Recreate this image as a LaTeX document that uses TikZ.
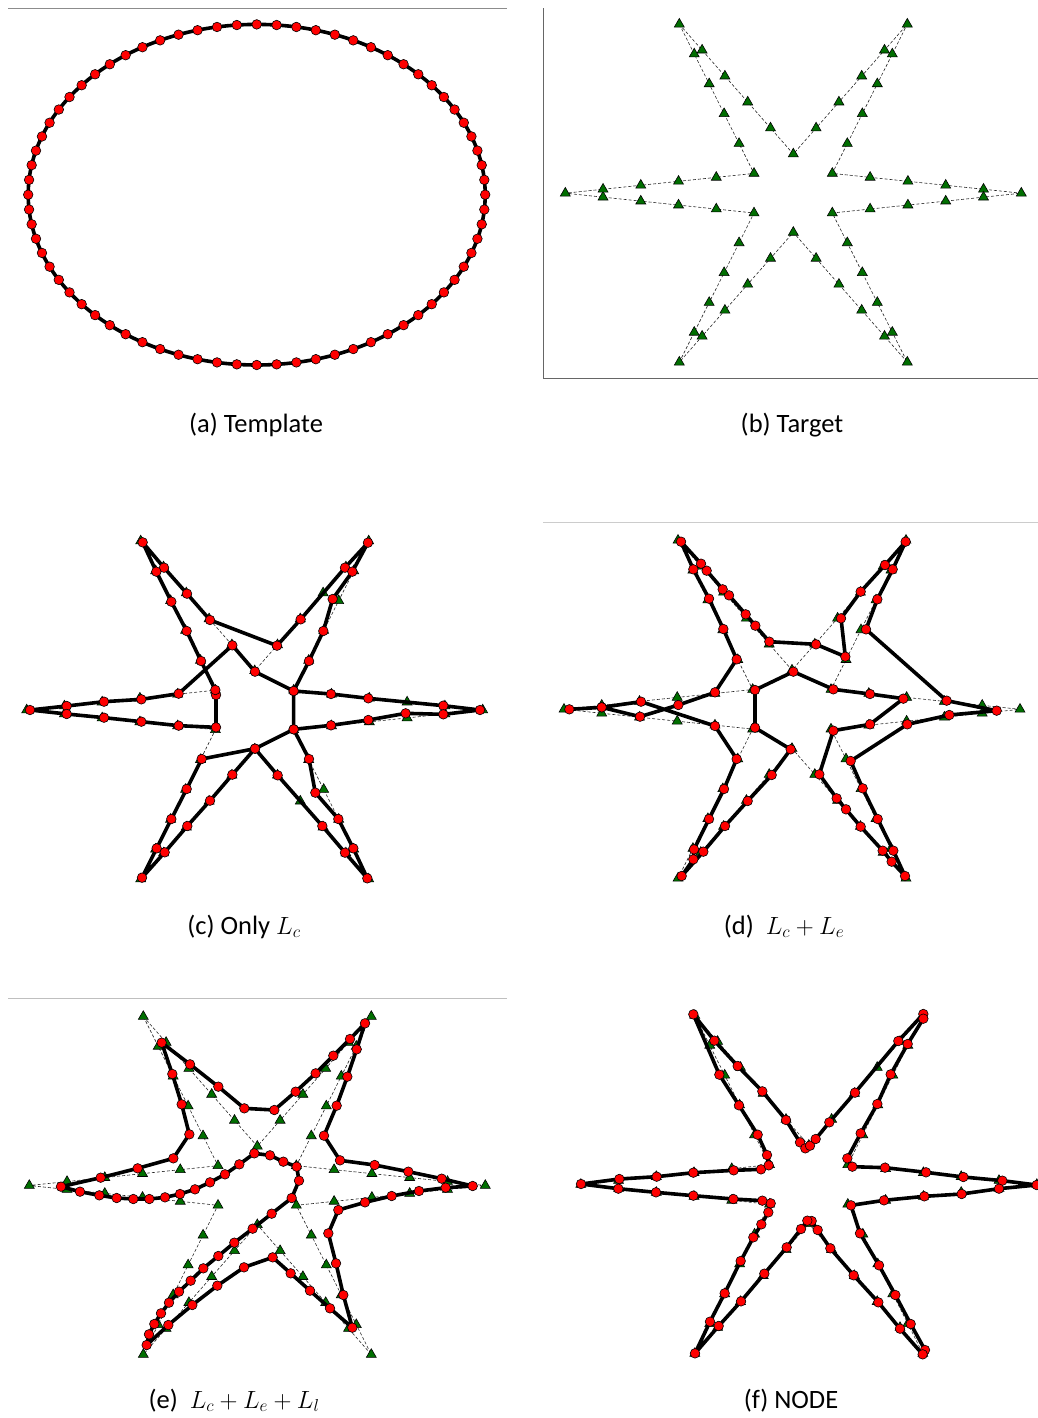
\documentclass[tikz,border=0pt]{standalone}
\usepackage{fontspec}
\setmainfont{Carlito}
\usetikzlibrary{shapes.geometric}
\definecolor{tgreen}{RGB}{0,110,0}
\definecolor{pred}{RGB}{255,0,0}
\tikzset{
  tgtline/.style={densely dashed, line width=0.6pt, black!85},
  tri/.style={regular polygon, regular polygon sides=3, minimum size=11.5pt, inner sep=0pt, fill=tgreen, draw=black, line width=0.6pt},
  predline/.style={line width=3.6pt, black, line join=round, line cap=round},
  predmark/.style={mark=*, mark size=4.8pt, mark options={fill=pred, draw=black, line width=0.6pt}},
  rule/.style={line width=0.9pt},
  captxt/.style={font=\fontsize{26.5}{30}\selectfont, inner sep=0pt, anchor=base}
}
% target star: #1 name prefix, #2 cx, #3 cy
\newcommand\targetstar[3]{%
\begin{scope}[shift={(#2,#3)}]
\draw[tgtline] (-114,-169) -- (0,-39.2) -- (114,-169) -- (39,-19.8) -- (228,0) -- (39,19.8) -- (114,169) -- (0,39.2) -- (-114,169) -- (-39.3,19.8) -- (-228,0) -- (-39.3,-19.8) -- cycle;
\foreach \ax/\ay/\bx/\by [count=\e] in {-114/-169/0/-39.2, 0/-39.2/114/-169, 114/-169/39/-19.8, 39/-19.8/228/0, 228/0/39/19.8, 39/19.8/114/169, 114/169/0/39.2, 0/39.2/-114/169, -114/169/-39.3/19.8, -39.3/19.8/-228/0, -228/0/-39.3/-19.8, -39.3/-19.8/-114/-169}
  \foreach \k in {0,...,4}
    \node[tri] (#1-\e-\k) at ({\ax+(\bx-\ax)*\k/5},{\ay+(\by-\ay)*\k/5}) {};
\end{scope}}
% predicted polygon in zoomed (1/3) units
\newcommand\predpoly[1]{%
  \draw[predline] plot coordinates {#1} -- cycle;
  \path plot[only marks, predmark] coordinates {#1};}
\begin{document}
\begin{tikzpicture}[x=1pt, y=-1pt]
\useasboundingbox (0,0) rectangle (1038,1418);
% ---------- (a) template ----------
\draw[rule, black!45] (8,8.3) -- (507,8.3);
\draw[predline] (256.7,194.7) ellipse [x radius=228.5, y radius=170.3];
\path plot[only marks, predmark, domain=0:355, samples=72] ({256.7+228.5*cos(\x)},{194.7+170.3*sin(\x)});
\node[captxt] (capa) at (256,432) {(a) Template};
% ---------- (b) target ----------
\draw[rule, black!60] (543.3,8.3) -- (543.3,378.3) -- (1038,378.3);
\targetstar{b}{793.3}{193.2}
\node[captxt] (capb) at (792,432) {(b) Target};
% ---------- (c) only Lc ----------
\targetstar{c}{254.7}{710}
\begin{scope}[shift={(0pt,-520pt)}, x=0.333333pt, y=-0.333333pt]
\predpoly{(428,67) (492,143) (561,221) (630,300) (831,377) (902,298) (1035,143) (1104,68) (1057,155) (998,237) (970,333) (927,423) (881,513) (993,522) (1105,535) (1330,557) (1440,570) (1330,583) (1217,580) (1105,600) (993,616) (881,628) (927,717) (946,818) (1015,897) (1060,985) (1102,1075) (1035,998) (967,918) (833,766) (765,686) (697,764) (630,842) (562,918) (494,997) (426,1073) (470,985) (514,897) (560,807) (605,717) (765,686) (881,628) (881,513) (765,455) (697,376) (536,521) (424,538) (312,545) (200,558) (90,570) (200,582) (312,593) (424,605) (536,617) (648,622) (648,525) (646,510) (603,423) (560,333) (514,245) (469,155)}
\end{scope}
\node[captxt] (capc) at (244,934) {(c) Only $L_c$};
% ---------- (d) Lc + Le ----------
\draw[rule, black!20] (543.3,522.3) -- (1038,522.3);
\targetstar{d}{792}{709.3}
\begin{scope}[shift={(520pt,-520pt)}, x=0.333333pt, y=-0.333333pt]
\predpoly{(483,65) (520,148) (567,236) (610,327) (650,418) (585,517) (475,555) (360,590) (245,562) (148,568) (245,562) (363,545) (585,618) (650,717) (612,807) (567,897) (522,988) (520,1018) (485,1068) (550,995) (615,918) (683,843) (755,765) (812,688) (705,623) (705,510) (820,455) (940,508) (1050,522) (1150,536) (1050,613) (940,632) (898,763) (950,835) (978,868) (1022,920) (1088,992) (1115,1025) (1155,1068) (1120,992) (1073,897) (1028,805) (992,723) (1162,613) (1288,585) (1430,572) (1280,542) (1038,328) (1072,238) (1118,148) (1157,65) (1095,135) (1022,215) (963,295) (976,410) (888,373) (748,365) (706,317) (677,283) (627,226) (608,208) (560,152) (543,131)}
\end{scope}
\node[captxt] (capd) at (784,934) {(d)\ \ $L_c + L_e$};
% ---------- (e) Lc + Le + Ll ----------
\draw[rule, black!25] (8.3,998.3) -- (506.7,998.3);
\targetstar{e}{257.3}{1185.5}
\begin{scope}[shift={(0pt,-990pt)}, x=0.333333pt, y=-0.333333pt]
\predpoly{(485,158) (570,223) (655,290) (733,355) (823,360) (887,305) (947,250) (1000,197) (1050,147) (1095,100) (1070,178) (1042,260) (1010,347) (972,437) (1020,511) (1124,525) (1225,545) (1325,566) (1418,588) (1337,593) (1257,603) (1175,618) (1095,637) (1015,660) (985,730) (1008,820) (1030,915) (1057,1013) (990,955) (930,902) (872,850) (818,802) (732,832) (652,887) (577,945) (505,1005) (440,1065) (447,1033) (463,1002) (483,970) (507,938) (537,905) (572,872) (610,835) (655,798) (703,758) (758,716) (815,671) (875,624) (897,572) (890,530) (850,515) (810,496) (763,490) (718,523) (675,553) (630,577) (585,598) (540,612) (495,622) (448,627) (400,627) (350,624) (298,616) (240,605) (183,590) (302,563) (413,535) (520,505) (568,433) (545,343) (517,252)}
\end{scope}
\node[captxt] (cape) at (234,1408) {(e)\ \ $L_c + L_e + L_l$};
% ---------- (f) NODE ----------
\targetstar{f}{808.8}{1184.5}
\begin{scope}[shift={(520pt,-990pt)}, x=0.333333pt, y=-0.333333pt]
\predpoly{(520,73) (583,152) (653,228) (727,304) (798,390) (840,457) (856,475) (870,467) (887,447) (928,397) (1005,308) (1135,153) (1210,72) (1210,86) (1163,162) (1112,253) (1072,342) (1022,430) (982,505) (997,530) (1095,533) (1218,547) (1330,561) (1447,572) (1550,585) (1437,596) (1325,612) (1213,619) (1092,631) (993,646) (1020,730) (1077,826) (1126,915) (1172,1002) (1215,1080) (1208,1093) (1140,1016) (1075,937) (1001,856) (931,775) (893,720) (875,693) (862,692) (843,717) (800,772) (733,851) (663,934) (596,1008) (525,1090) (570,995) (614,910) (662,813) (700,742) (724,703) (745,667) (752,640) (727,632) (640,627) (520,617) (408,607) (295,596) (183,582) (298,567) (410,560) (520,548) (641,541) (723,538) (746,526) (741,495) (713,434) (657,346) (598,254)}
\end{scope}
\node[captxt] (capf) at (791,1408) {(f) NODE};
\end{tikzpicture}
\end{document}
